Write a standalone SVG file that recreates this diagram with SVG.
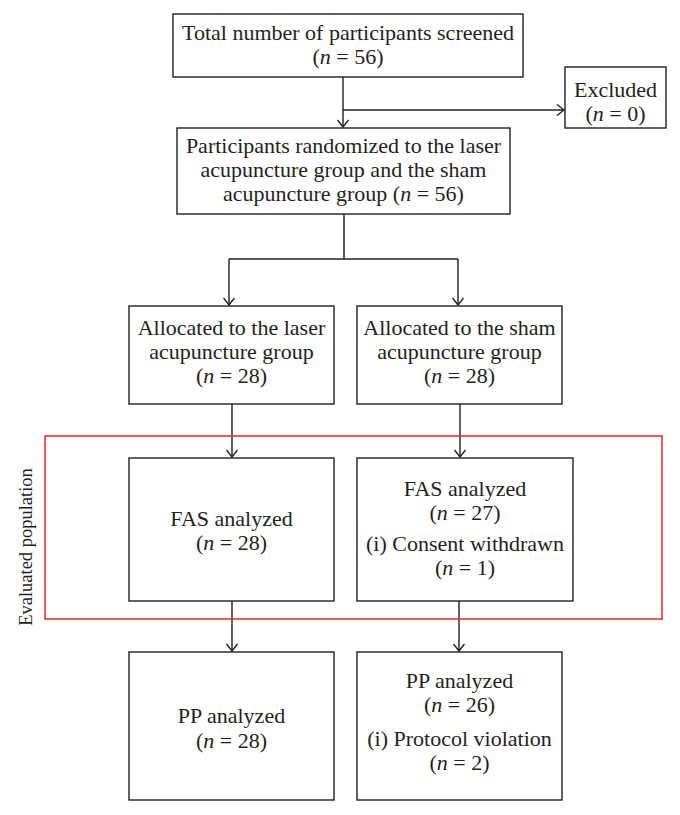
<svg xmlns="http://www.w3.org/2000/svg" width="680" height="815" viewBox="0 0 680 815">
<defs>
<style>
.box{fill:#fff;stroke:#231f20;stroke-width:1.4}
.t{font-family:"Liberation Serif","Times New Roman",serif;font-size:22px;fill:#231f20;text-anchor:middle}
.v{font-size:18.5px}
.i{font-style:italic}
.ln{fill:none;stroke:#231f20;stroke-width:1.4}
</style>
<marker id="ah" viewBox="0 0 12 12" markerWidth="12" markerHeight="12" refX="11" refY="6" orient="auto" markerUnits="userSpaceOnUse">
<path d="M4,0.5 L11,6 L4,11.5" fill="none" stroke="#231f20" stroke-width="1.4"/>
</marker>
</defs>
<rect width="680" height="815" fill="#fff"/>
<g id="connectors">
<path class="ln" d="M343,77 V127" marker-end="url(#ah)"/>
<path class="ln" d="M343,110 H564" marker-end="url(#ah)"/>
<path class="ln" d="M344,214 V259 M229,259 H458"/>
<path class="ln" d="M229,259 V305" marker-end="url(#ah)"/>
<path class="ln" d="M458,259 V305" marker-end="url(#ah)"/>
<path class="ln" d="M232,404 V457" marker-end="url(#ah)"/>
<path class="ln" d="M460,404 V457" marker-end="url(#ah)"/>
<path class="ln" d="M232,601 V651" marker-end="url(#ah)"/>
<path class="ln" d="M459,601 V651" marker-end="url(#ah)"/>
</g>
<g id="evaluated">
<rect x="45" y="436" width="617" height="183" fill="none" stroke="#e8262b" stroke-width="1.5"/>
<text class="t v" transform="translate(32,547) rotate(-90)">Evaluated population</text>
</g>
<g id="screened">
<rect class="box" x="173" y="14" width="350" height="63"/>
<text class="t" x="348" y="40">Total number of participants screened</text>
<text class="t" x="348" y="64">(<tspan class="i">n</tspan> = 56)</text>
</g>
<g id="excluded">
<rect class="box" x="565" y="67" width="101" height="61"/>
<text class="t" x="615.5" y="97">Excluded</text>
<text class="t" x="615.5" y="121">(<tspan class="i">n</tspan> = 0)</text>
</g>
<g id="randomized">
<rect class="box" x="177" y="128" width="333" height="86"/>
<text class="t" x="343.5" y="153">Participants randomized to the laser</text>
<text class="t" x="343.5" y="177">acupuncture group and the sham</text>
<text class="t" x="343.5" y="201">acupuncture group (<tspan class="i">n</tspan> = 56)</text>
</g>
<g id="alloc-laser">
<rect class="box" x="129" y="306" width="205" height="98"/>
<text class="t" x="231.5" y="335">Allocated to the laser</text>
<text class="t" x="231.5" y="359">acupuncture group</text>
<text class="t" x="231.5" y="383">(<tspan class="i">n</tspan> = 28)</text>
</g>
<g id="alloc-sham">
<rect class="box" x="357" y="306" width="205" height="98"/>
<text class="t" x="459.5" y="335">Allocated to the sham</text>
<text class="t" x="459.5" y="359">acupuncture group</text>
<text class="t" x="459.5" y="383">(<tspan class="i">n</tspan> = 28)</text>
</g>
<g id="fas-laser">
<rect class="box" x="129" y="458" width="205" height="143"/>
<text class="t" x="231.5" y="526">FAS analyzed</text>
<text class="t" x="231.5" y="550">(<tspan class="i">n</tspan> = 28)</text>
</g>
<g id="fas-sham">
<rect class="box" x="357" y="458" width="216" height="143"/>
<text class="t" x="465" y="496">FAS analyzed</text>
<text class="t" x="465" y="520">(<tspan class="i">n</tspan> = 27)</text>
<text class="t" x="465" y="551">(i) Consent withdrawn</text>
<text class="t" x="465" y="575">(<tspan class="i">n</tspan> = 1)</text>
</g>
<g id="pp-laser">
<rect class="box" x="129" y="652" width="205" height="148"/>
<text class="t" x="231.5" y="723">PP analyzed</text>
<text class="t" x="231.5" y="748">(<tspan class="i">n</tspan> = 28)</text>
</g>
<g id="pp-sham">
<rect class="box" x="357" y="652" width="205" height="148"/>
<text class="t" x="459.5" y="688">PP analyzed</text>
<text class="t" x="459.5" y="712">(<tspan class="i">n</tspan> = 26)</text>
<text class="t" x="459.5" y="746">(i) Protocol violation</text>
<text class="t" x="459.5" y="770">(<tspan class="i">n</tspan> = 2)</text>
</g>
</svg>
